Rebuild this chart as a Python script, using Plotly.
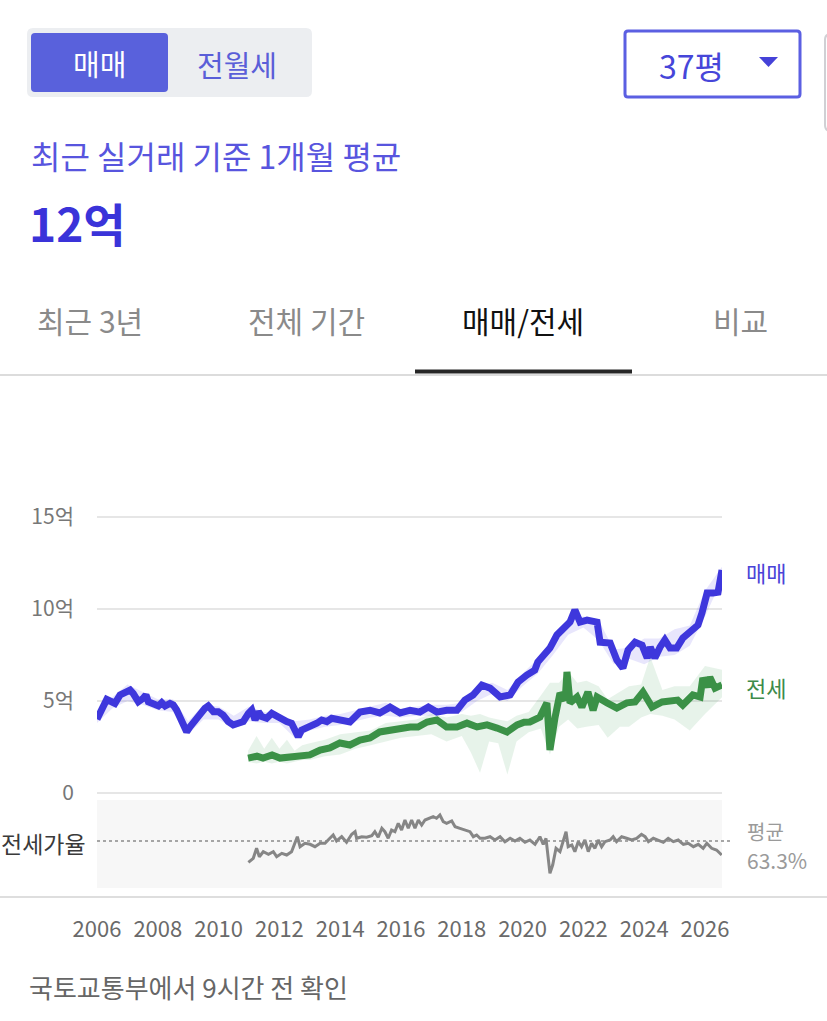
import plotly.graph_objects as go

W, H = 827, 1021
FONT = "Noto Sans CJK KR"

# 매매 (sale price, 억) by decimal year
sale_x = [2006.00, 2006.15, 2006.32, 2006.48, 2006.59, 2006.76, 2006.87, 2006.98, 2007.09, 2007.19,
          2007.36, 2007.52, 2007.61, 2007.69, 2007.85, 2008.02, 2008.13, 2008.24, 2008.40, 2008.51,
          2008.62, 2008.73, 2008.84, 2008.95, 2009.06, 2009.22, 2009.39, 2009.55, 2009.66, 2009.83,
          2009.99, 2010.15, 2010.32, 2010.48, 2010.65, 2010.81, 2010.98, 2011.09, 2011.20, 2011.31,
          2011.42, 2011.58, 2011.75, 2011.91, 2012.08, 2012.24, 2012.40, 2012.51, 2012.62, 2012.73,
          2012.90, 2013.06, 2013.23, 2013.39, 2013.56, 2013.72, 2013.88, 2014.32, 2014.65, 2014.98,
          2015.30, 2015.64, 2015.97, 2016.30, 2016.62, 2016.90, 2017.18, 2017.50, 2017.84, 2018.10,
          2018.37, 2018.66, 2018.93, 2019.26, 2019.59, 2019.85, 2020.14, 2020.40, 2020.50, 2020.67,
          2020.90, 2021.13, 2021.33, 2021.56, 2021.72, 2021.89, 2022.12, 2022.45, 2022.55, 2022.88,
          2023.10, 2023.30, 2023.47, 2023.70, 2023.93, 2024.10, 2024.20, 2024.35, 2024.52, 2024.68,
          2024.85, 2025.07, 2025.27, 2025.57, 2025.77, 2025.90, 2026.07, 2026.26, 2026.43, 2026.56]
sale_y = [4.01, 4.51, 5.09, 4.96, 4.87, 5.33, 5.42, 5.51, 5.60, 5.42,
          4.96, 5.15, 5.33, 4.96, 4.87, 4.73, 4.91, 4.73, 4.87, 4.78,
          4.51, 4.06, 3.70, 3.33, 3.60, 3.97, 4.33, 4.60, 4.73, 4.42,
          4.42, 4.24, 3.88, 3.70, 3.79, 3.88, 4.33, 4.51, 3.97, 4.42,
          4.15, 4.06, 4.33, 4.15, 4.06, 3.88, 3.79, 3.33, 3.06, 3.42,
          3.52, 3.70, 3.79, 3.97, 3.88, 4.06, 4.01, 3.86, 4.40, 4.50,
          4.35, 4.67, 4.35, 4.50, 4.40, 4.67, 4.40, 4.50, 4.50, 5.05,
          5.33, 5.87, 5.70, 5.22, 5.33, 6.03, 6.41, 6.68, 7.12, 7.39,
          7.88, 8.59, 8.86, 9.29, 9.95, 9.29, 9.40, 9.29, 8.20, 8.15,
          7.23, 6.79, 7.77, 8.20, 8.04, 7.34, 7.93, 7.34, 7.93, 8.32,
          7.88, 7.88, 8.42, 8.86, 9.13, 9.78, 10.87, 10.87, 10.92, 12.12]

# 전세 (jeonse deposit, 억)
rent_x = [2010.97, 2011.26, 2011.46, 2011.76, 2012.02, 2012.30, 2012.58, 2013.00, 2013.34, 2013.66,
          2013.99, 2014.32, 2014.65, 2014.98, 2015.30, 2015.64, 2015.97, 2016.30, 2016.56, 2016.86,
          2017.18, 2017.50, 2017.84, 2018.17, 2018.50, 2018.83, 2019.16, 2019.49, 2019.82, 2020.05,
          2020.24, 2020.57, 2020.80, 2020.90, 2021.07, 2021.23, 2021.40, 2021.46, 2021.56, 2021.79,
          2021.95, 2022.15, 2022.32, 2022.45, 2022.78, 2023.10, 2023.43, 2023.70, 2023.96, 2024.26,
          2024.59, 2024.85, 2025.10, 2025.27, 2025.60, 2025.84, 2025.93, 2026.07, 2026.16, 2026.33,
          2026.56]
rent_y = [1.90, 2.00, 1.90, 2.07, 1.90, 1.93, 1.96, 2.07, 2.34, 2.45,
          2.72, 2.61, 2.88, 2.99, 3.32, 3.42, 3.53, 3.59, 3.59, 3.86,
          3.97, 3.59, 3.59, 3.80, 3.59, 3.70, 3.53, 3.32, 3.70, 3.85,
          3.86, 4.13, 4.90, 2.34, 4.13, 5.43, 5.05, 6.58, 4.90, 5.22,
          4.67, 5.49, 4.50, 5.22, 4.90, 4.62, 4.90, 4.95, 5.49, 4.67,
          4.95, 5.05, 5.05, 4.78, 5.33, 5.22, 6.25, 5.76, 6.30, 5.70,
          5.87]

# min / max bands
sale_band_x = [2006.0, 2006.5, 2007.0, 2007.5, 2008.0, 2008.5, 2009.0, 2009.5, 2010.0, 2010.5,
               2011.0, 2011.5, 2012.0, 2012.5, 2013.0, 2013.5, 2014.0, 2014.5, 2015.0, 2015.5,
               2016.0, 2016.5, 2017.0, 2017.5, 2018.0, 2018.5, 2019.0, 2019.5, 2020.0, 2020.5,
               2021.0, 2021.5, 2022.0, 2022.5, 2023.0, 2023.5, 2024.0, 2024.5, 2025.0, 2025.5,
               2026.0, 2026.56]
sale_hi = [4.4, 5.2, 5.9, 5.5, 5.1, 5.1, 3.9, 4.8, 4.7, 4.2,
           4.7, 4.4, 4.3, 3.9, 4.0, 4.2, 4.3, 4.5, 4.7, 4.9,
           4.6, 4.7, 4.8, 4.8, 4.9, 5.8, 6.0, 5.6, 6.5, 7.3,
           8.4, 9.5, 9.6, 9.4, 7.8, 7.9, 8.4, 8.4, 8.9, 9.1,
           11.0, 12.3]
sale_lo = [3.8, 4.6, 5.0, 4.8, 4.5, 4.4, 3.2, 4.0, 4.0, 3.5,
           3.9, 3.8, 3.8, 3.0, 3.4, 3.6, 3.7, 3.9, 4.1, 4.2,
           4.1, 4.2, 4.2, 4.3, 4.4, 5.0, 5.4, 5.0, 5.8, 6.5,
           7.5, 8.6, 9.0, 8.3, 7.0, 7.3, 7.0, 7.4, 7.5, 8.0,
           9.6, 11.6]

rent_band_x = [2010.97, 2011.25, 2011.5, 2011.75, 2012.0, 2012.25, 2012.5, 2012.75, 2013.0, 2013.5,
               2014.0, 2014.5, 2015.0, 2015.5, 2016.0, 2016.5, 2017.0, 2017.5, 2018.0, 2018.3,
               2018.6, 2018.9, 2019.2, 2019.5, 2019.8, 2020.2, 2020.6, 2020.9, 2021.2, 2021.5,
               2021.8, 2022.1, 2022.5, 2022.8, 2023.2, 2023.5, 2023.9, 2024.2, 2024.6, 2025.0,
               2025.5, 2026.0, 2026.56]
rent_hi = [2.3, 3.1, 2.4, 3.0, 2.4, 2.9, 2.3, 2.6, 2.7, 2.9,
           3.2, 3.3, 3.4, 3.8, 3.9, 4.0, 4.3, 4.1, 4.3, 4.2,
           4.3, 4.1, 4.0, 3.9, 4.2, 4.4, 5.3, 6.0, 6.0, 6.6,
           6.0, 6.1, 5.8, 5.1, 5.5, 5.8, 5.9, 7.4, 5.6, 5.8,
           5.8, 6.9, 6.7]
rent_lo = [1.7, 1.6, 1.7, 1.6, 1.7, 1.6, 1.7, 1.8, 1.8, 2.0,
           2.1, 2.4, 2.6, 2.8, 3.0, 3.1, 3.2, 2.8, 3.1, 2.2,
           1.1, 2.8, 2.7, 1.0, 2.8, 3.3, 3.5, 2.1, 3.6, 4.0,
           3.5, 3.6, 3.7, 3.0, 3.6, 3.6, 4.1, 4.3, 4.2, 4.0,
           3.4, 4.3, 5.2]

# 전세가율 (%)
ratio_x = [2010.98, 2011.14, 2011.25, 2011.34, 2011.47, 2011.64, 2011.80, 2011.91, 2012.08, 2012.24,
           2012.40, 2012.51, 2012.59, 2012.68, 2012.84, 2013.01, 2013.17, 2013.34, 2013.50, 2013.66,
           2013.77, 2013.88, 2014.05, 2014.21, 2014.38, 2014.49, 2014.54, 2014.71, 2014.87, 2015.04,
           2015.14, 2015.25, 2015.37, 2015.47, 2015.58, 2015.69, 2015.80, 2015.91, 2016.02, 2016.13,
           2016.24, 2016.35, 2016.46, 2016.57, 2016.68, 2016.79, 2016.95, 2017.06, 2017.17, 2017.28,
           2017.39, 2017.50, 2017.67, 2017.78, 2017.94, 2018.11, 2018.27, 2018.38, 2018.49, 2018.60,
           2018.76, 2018.93, 2019.09, 2019.26, 2019.42, 2019.59, 2019.75, 2019.91, 2020.08, 2020.24,
           2020.41, 2020.57, 2020.68, 2020.77, 2020.85, 2020.90, 2020.99, 2021.10, 2021.23, 2021.34,
           2021.43, 2021.50, 2021.62, 2021.72, 2021.83, 2021.94, 2022.05, 2022.16, 2022.27, 2022.38,
           2022.49, 2022.60, 2022.71, 2022.88, 2022.98, 2023.09, 2023.26, 2023.42, 2023.59, 2023.75,
           2023.91, 2024.03, 2024.14, 2024.30, 2024.46, 2024.63, 2024.79, 2024.96, 2025.12, 2025.29,
           2025.45, 2025.62, 2025.78, 2025.94, 2026.06, 2026.22, 2026.38, 2026.55]
ratio_y = [42.0, 46.0, 56.0, 47.6, 52.6, 50.0, 52.6, 47.6, 51.0, 49.3,
           52.6, 62.6, 67.6, 57.6, 61.0, 60.0, 57.6, 61.0, 61.0, 66.0,
           69.3, 63.3, 67.6, 62.0, 70.0, 72.6, 66.0, 67.6, 67.0, 68.6,
           72.6, 67.0, 76.0, 72.6, 66.0, 74.3, 72.6, 81.0, 74.3, 84.3,
           76.0, 84.3, 76.0, 84.3, 79.3, 84.3, 86.0, 87.6, 86.0, 89.3,
           82.6, 81.0, 83.3, 77.6, 76.0, 74.3, 72.6, 67.6, 69.3, 66.0,
           66.0, 67.6, 64.3, 67.6, 62.6, 66.0, 63.3, 66.0, 62.0, 64.3,
           60.0, 67.6, 60.0, 66.0, 46.0, 31.0, 39.3, 56.0, 52.6, 62.6,
           72.6, 57.6, 59.3, 52.6, 62.6, 57.6, 64.3, 52.6, 61.0, 56.0,
           64.3, 57.6, 62.6, 64.3, 67.6, 62.6, 67.6, 66.0, 64.3, 66.0,
           70.0, 67.6, 62.6, 66.0, 64.3, 62.0, 66.0, 62.6, 64.3, 60.0,
           61.0, 57.6, 60.0, 56.0, 61.0, 56.0, 54.3, 49.3]
ratio_avg = 63.3

y_ticks = [0, 5, 10, 15]
y_labels = ["0", "5억", "10억", "15억"]
x_ticks = list(range(2006, 2027, 2))
x_labels = [str(v) for v in x_ticks]

BLUE = "#3e37dc"
GREEN = "#3b9147"


def px(x):
    return x / W


def py(y):
    return 1 - y / H


def rrect(x0, y0, x1, y1, r):
    rx, ry = r / W, r / H
    a, b, c, d = px(x0), py(y0), px(x1), py(y1)
    return (f"M{a + rx},{b} L{c - rx},{b} Q{c},{b} {c},{b - ry} "
            f"L{c},{d + ry} Q{c},{d} {c - rx},{d} L{a + rx},{d} "
            f"Q{a},{d} {a},{d + ry} L{a},{b - ry} Q{a},{b} {a + rx},{b} Z")


fig = go.Figure()

fig.add_trace(go.Scatter(x=sale_band_x, y=sale_lo, mode="lines", line=dict(width=0),
                         showlegend=False, hoverinfo="skip"))
fig.add_trace(go.Scatter(x=sale_band_x, y=sale_hi, mode="lines", line=dict(width=0),
                         fill="tonexty", fillcolor="rgba(110,100,235,0.16)",
                         showlegend=False, hoverinfo="skip"))
fig.add_trace(go.Scatter(x=rent_band_x, y=rent_lo, mode="lines", line=dict(width=0),
                         showlegend=False, hoverinfo="skip"))
fig.add_trace(go.Scatter(x=rent_band_x, y=rent_hi, mode="lines", line=dict(width=0),
                         fill="tonexty", fillcolor="rgba(70,165,95,0.13)",
                         showlegend=False, hoverinfo="skip"))
fig.add_trace(go.Scatter(x=rent_x, y=rent_y, mode="lines", line=dict(color=GREEN, width=7),
                         showlegend=False))
fig.add_trace(go.Scatter(x=sale_x, y=sale_y, mode="lines", line=dict(color=BLUE, width=7),
                         showlegend=False))
fig.add_trace(go.Scatter(x=ratio_x, y=ratio_y, mode="lines", line=dict(color="#868686", width=3),
                         xaxis="x2", yaxis="y2", showlegend=False))

shapes = [
    # segmented control
    dict(type="path", path=rrect(27, 28, 312, 97, 6), xref="paper", yref="paper",
         fillcolor="#eceef1", line=dict(width=0), layer="below"),
    dict(type="path", path=rrect(31, 33, 168, 92, 4), xref="paper", yref="paper",
         fillcolor="#5961dc", line=dict(width=0)),
    # dropdown
    dict(type="path", path=rrect(625, 31, 800, 97, 3), xref="paper", yref="paper",
         fillcolor="white", line=dict(color="#5b5fe2", width=3)),
    dict(type="path", path=f"M{px(759)},{py(57)} L{px(778)},{py(57)} L{px(768.5)},{py(67)} Z",
         xref="paper", yref="paper", fillcolor="#4542d8", line=dict(width=0)),
    dict(type="path", path=rrect(825, 34, 860, 131, 6), xref="paper", yref="paper",
         fillcolor="white", line=dict(color="#d0d0d4", width=2)),
    # tab separator and underline
    dict(type="line", xref="paper", yref="paper", x0=0, x1=1, y0=py(375), y1=py(375),
         line=dict(color="#dcdcdc", width=2)),
    dict(type="line", xref="paper", yref="paper", x0=px(415), x1=px(632), y0=py(371.5), y1=py(371.5),
         line=dict(color="#262626", width=4)),
    # ratio panel
    dict(type="rect", xref="x2 domain", yref="y2 domain", x0=0, x1=1, y0=0, y1=1,
         fillcolor="#f7f7f7", line=dict(width=0), layer="below"),
    dict(type="line", xref="paper", yref="y2", x0=px(97), x1=px(731), y0=ratio_avg, y1=ratio_avg,
         line=dict(color="#8a8a8a", width=1.5, dash="dot")),
    dict(type="line", xref="paper", yref="paper", x0=0, x1=1, y0=py(897), y1=py(897),
         line=dict(color="#dedede", width=2)),
]

anns = [
    dict(x=px(99.5), y=py(63), text="매매", font=dict(size=29, color="white")),
    dict(x=px(237), y=py(64), text="전월세", font=dict(size=29, color="#5a5ed8")),
    dict(x=px(691), y=py(65), text="37평", font=dict(size=32, color="#4646d9")),
    dict(x=px(29), y=py(155), text="최근 실거래 기준 1개월 평균", xanchor="left",
         font=dict(size=32, color="#5855de")),
    dict(x=px(27), y=py(222), text="<b>12억</b>", xanchor="left",
         font=dict(size=46, color="#3a33d9")),
    dict(x=px(90), y=py(320), text="최근 3년", font=dict(size=30, color="#8a8a8a")),
    dict(x=px(306), y=py(320), text="전체 기간", font=dict(size=30, color="#8a8a8a")),
    dict(x=px(523), y=py(320), text="매매/전세", font=dict(size=30, color="#111111")),
    dict(x=px(740), y=py(320), text="비교", font=dict(size=30, color="#8a8a8a")),
    dict(x=px(744), y=py(572), text="매매", xanchor="left", font=dict(size=22, color="#4a44d8")),
    dict(x=px(744), y=py(687), text="전세", xanchor="left", font=dict(size=22, color="#3d8b4a")),
    dict(x=px(88), y=py(843), text="전세가율", xanchor="right", font=dict(size=23, color="#3a3a3a")),
    dict(x=px(745), y=py(831), text="평균", xanchor="left", font=dict(size=20, color="#9a9a9a")),
    dict(x=px(745), y=py(860), text="63.3%", xanchor="left", font=dict(size=21, color="#9a9a9a")),
    dict(x=px(27), y=py(986), text="국토교통부에서 9시간 전 확인", xanchor="left",
         font=dict(size=26, color="#666666")),
]
for a in anns:
    a.update(xref="paper", yref="paper", showarrow=False, yanchor="middle")
    a.setdefault("xanchor", "center")

x_dom = [px(97), px(722)]
x_rng = [2006.0, 2026.56]

fig.update_layout(
    width=W, height=H,
    margin=dict(l=0, r=0, t=0, b=0, autoexpand=False),
    paper_bgcolor="white", plot_bgcolor="rgba(0,0,0,0)",
    font=dict(family=FONT, color="#777777"),
    showlegend=False, hovermode=False,
    shapes=shapes, annotations=anns,
    xaxis=dict(domain=x_dom, range=x_rng, showgrid=False, zeroline=False,
               showticklabels=False, fixedrange=True, automargin=False),
    yaxis=dict(domain=[py(796.7), py(506)], range=[-0.2, 15.6], tickvals=y_ticks, ticktext=y_labels,
               showgrid=True, gridcolor="#e6e6e6", gridwidth=2, zeroline=False,
               tickfont=dict(size=21, color="#777777"), ticklabelstandoff=22, fixedrange=True,
               automargin=False),
    xaxis2=dict(domain=x_dom, range=x_rng, anchor="y2", tickvals=x_ticks, ticktext=x_labels,
                showgrid=False, zeroline=False, tickfont=dict(size=22, color="#6a6a6a"),
                ticklabelstandoff=26, fixedrange=True, automargin=False),
    yaxis2=dict(domain=[py(888), py(800)], range=[16.3, 104.3], anchor="x2",
                showgrid=False, zeroline=False, showticklabels=False, fixedrange=True,
                automargin=False),
)

fig.write_html("out.html", config={"displayModeBar": False},
               post_script="document.body.style.margin='0';document.body.style.overflow='hidden';")
